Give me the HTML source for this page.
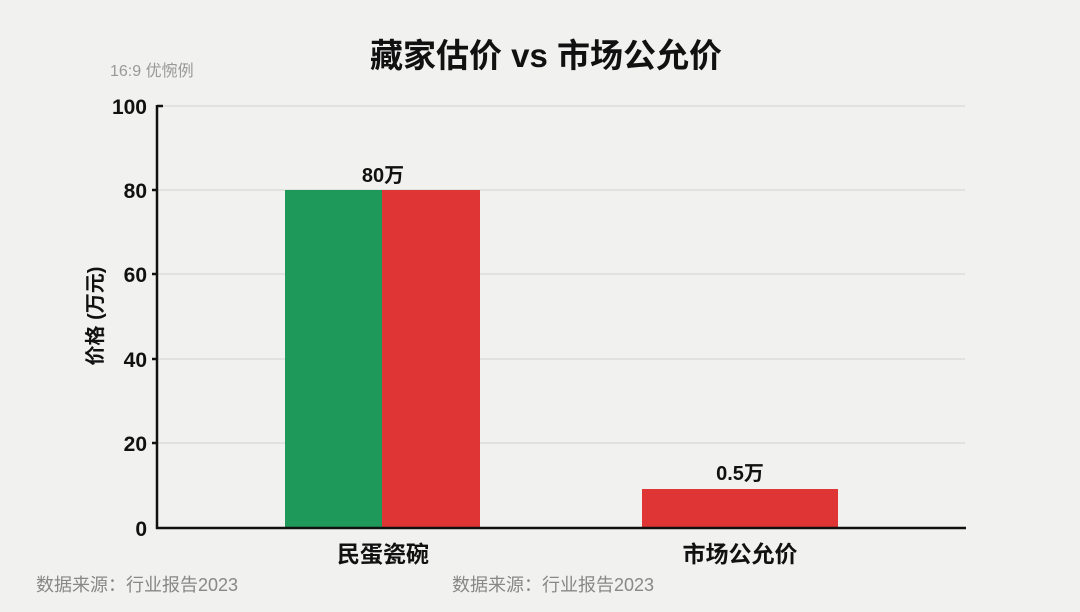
<!DOCTYPE html>
<html><head><meta charset="utf-8"><style>
body{margin:0;width:1080px;height:607px;background:#f1f1ef;overflow:hidden;font-family:"Liberation Sans","Noto Sans CJK SC",sans-serif}
</style></head><body>
<svg width="1080" height="607" xmlns="http://www.w3.org/2000/svg" font-family="'Liberation Sans','Noto Sans CJK SC',sans-serif">
<rect width="1080" height="607" fill="#f1f1ef"/>
<text x="546" y="67" text-anchor="middle" font-size="33" font-weight="bold" fill="#111">藏家估价 vs 市场公允价</text>
<text x="110" y="76" font-size="16" fill="#999">16:9 优惋例</text>
<g stroke="#dcdcda" stroke-width="1.5">
<line x1="158" y1="106" x2="965" y2="106"/><line x1="158" y1="190" x2="965" y2="190"/>
<line x1="158" y1="274" x2="965" y2="274"/><line x1="158" y1="359" x2="965" y2="359"/>
<line x1="158" y1="443" x2="965" y2="443"/>
</g>
<rect x="285" y="190" width="97" height="338" fill="#1f995a"/>
<rect x="382" y="190" width="98" height="338" fill="#e03535"/>
<rect x="642" y="489" width="196" height="39" fill="#e03535"/>
<g stroke="#111" stroke-width="2.5" fill="none">
<line x1="157" y1="105" x2="157" y2="529"/><line x1="156" y1="528" x2="966" y2="528"/>
<line x1="157" y1="106" x2="163" y2="106"/>
<line x1="152" y1="190" x2="157" y2="190"/><line x1="152" y1="274" x2="157" y2="274"/>
<line x1="152" y1="359" x2="157" y2="359"/><line x1="152" y1="443" x2="157" y2="443"/>
</g>
<g font-size="21" font-weight="bold" fill="#111" text-anchor="end">
<text x="147" y="114">100</text><text x="147" y="198">80</text><text x="147" y="282">60</text>
<text x="147" y="367">40</text><text x="147" y="451">20</text><text x="147" y="536">0</text>
</g>
<text transform="translate(102,316) rotate(-90)" text-anchor="middle" font-size="20" font-weight="bold" fill="#111">价格 (万元)</text>
<text x="383" y="182" text-anchor="middle" font-size="20" font-weight="bold" fill="#111">80万</text>
<text x="740" y="480" text-anchor="middle" font-size="20" font-weight="bold" fill="#111">0.5万</text>
<text x="383" y="562" text-anchor="middle" font-size="23" font-weight="bold" fill="#111">民蛋瓷碗</text>
<text x="740" y="562" text-anchor="middle" font-size="23" font-weight="bold" fill="#111">市场公允价</text>
<text x="36" y="591" font-size="18" fill="#888">数据来源：行业报告2023</text>
<text x="452" y="591" font-size="18" fill="#888">数据来源：行业报告2023</text>
</svg>
</body></html>
